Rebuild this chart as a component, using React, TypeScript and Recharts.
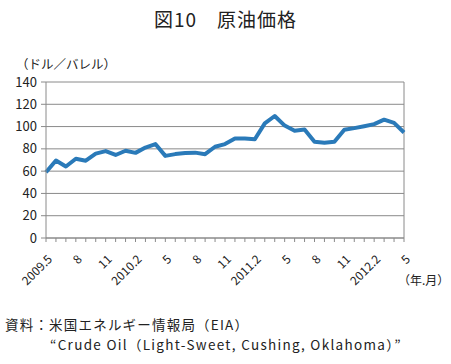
import React from 'react';
import { LineChart, Line, XAxis, YAxis, CartesianGrid, ReferenceLine } from 'recharts';

const months = [
  '2009.5','2009.6','2009.7','2009.8','2009.9','2009.10','2009.11','2009.12',
  '2010.1','2010.2','2010.3','2010.4','2010.5','2010.6','2010.7','2010.8','2010.9','2010.10','2010.11','2010.12',
  '2011.1','2011.2','2011.3','2011.4','2011.5','2011.6','2011.7','2011.8','2011.9','2011.10','2011.11','2011.12',
  '2012.1','2012.2','2012.3','2012.4','2012.5',
];
const prices = [
  59.0, 69.6, 64.2, 71.1, 69.4, 75.7, 78.0, 74.5,
  78.3, 76.4, 81.2, 84.3, 73.7, 75.3, 76.3, 76.6, 75.2, 81.9, 84.3, 89.2,
  89.2, 88.6, 102.9, 109.5, 100.9, 96.3, 97.3, 86.3, 85.5, 86.3, 97.2, 98.6,
  100.3, 102.2, 106.2, 103.3, 94.7,
];
const tickLabels = ['2009.5','8','11','2010.2','5','8','11','2011.2','5','8','11','2012.2','5'];
const yTicks = [0, 20, 40, 60, 80, 100, 120, 140];

const data = months.map((m, i) => ({ month: m, price: prices[i] }));

const FONT = '"Noto Sans CJK JP", "Noto Sans", sans-serif';

const XTick = (props: any) => {
  const { x, y, index } = props;
  if (index % 3 !== 0) return null;
  const label = tickLabels[index / 3];
  const ax = x + 7;
  const ay = y + 16;
  return (
    <text x={ax} y={ay} textAnchor="end" fontSize={12} fill="#222" fontFamily={FONT}
      transform={`rotate(-45, ${ax}, ${ay})`}>
      {label}
    </text>
  );
};

export default function App() {
  return (
    <div style={{ position: 'absolute', left: 0, top: 0, width: 451, height: 364, background: '#fff', fontFamily: FONT, color: '#222' }}>
      <div style={{ position: 'absolute', left: 0, top: 6, width: 451, textAlign: 'center', fontSize: 19, lineHeight: '26px', letterSpacing: 1 }}>
        図10　原油価格
      </div>
      <div style={{ position: 'absolute', left: 16, top: 56, fontSize: 12.5, lineHeight: '16px' }}>
        （ドル／バレル）
      </div>
      <div style={{ position: 'absolute', left: 0, top: 0 }}>
        <LineChart width={451} height={364} data={data} margin={{ top: 82, right: 47, bottom: 66, left: 6 }}>
          <CartesianGrid vertical={false} stroke="#8a8a8a" strokeWidth={1} />
          <XAxis dataKey="month" interval={0} tick={<XTick />} tickLine={{ stroke: '#8a8a8a' }} tickSize={4}
            axisLine={{ stroke: '#8a8a8a' }} height={60} padding={{ left: 0, right: 0 }} />
          <YAxis domain={[0, 140]} ticks={yTicks} width={40} tickSize={5} tickMargin={4} interval={0}
            axisLine={{ stroke: '#8a8a8a' }} tickLine={{ stroke: '#8a8a8a' }}
            tick={{ fontSize: 13, fill: '#222', fontFamily: FONT }} />
          <ReferenceLine x={months[months.length - 1]} stroke="#8a8a8a" strokeWidth={1} />
          <Line type="linear" dataKey="price" stroke="#2a7ab9" strokeWidth={4} dot={false} isAnimationActive={false} strokeLinejoin="round" />
        </LineChart>
      </div>
      <div style={{ position: 'absolute', left: 398, top: 271, fontSize: 12, lineHeight: '18px' }}>
        （年.月）
      </div>
      <div style={{ position: 'absolute', left: 5, top: 314, fontSize: 13.5, lineHeight: '20px', whiteSpace: 'nowrap', letterSpacing: 1.2 }}>
        資料：米国エネルギー情報局（EIA）
      </div>
      <div style={{ position: 'absolute', left: 50, top: 334, fontSize: 13.5, lineHeight: '20px', whiteSpace: 'nowrap', letterSpacing: 1.3 }}>
        “Crude Oil（Light-Sweet, Cushing, Oklahoma）”
      </div>
    </div>
  );
}
